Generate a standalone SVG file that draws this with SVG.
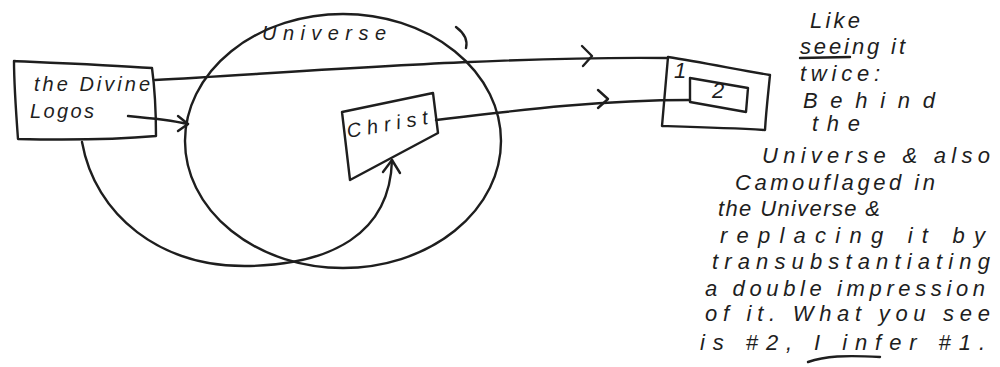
<svg xmlns="http://www.w3.org/2000/svg" width="1000" height="367" viewBox="0 0 1000 367">
<style>
.s{fill:none;stroke:#1e1e1e;stroke-width:2.4;stroke-linecap:round;stroke-linejoin:round}
.t{font-family:"Liberation Sans","DejaVu Sans",sans-serif;font-style:italic;fill:#1e1e1e;font-size:22px}
.n{font-size:20px}
</style>
<rect width="1000" height="367" fill="#fff"/>
<g id="universe">
<ellipse class="s" cx="343" cy="141" rx="158" ry="127"/>
<path class="s" d="M456,27 C464,33 468,40 466,48"/>
<text class="t n" x="262" y="40" textLength="124" lengthAdjust="spacing">Universe</text>
</g>
<g id="logos">
<path class="s" d="M14,61 C60,63 110,65 152,68 C155,90 156,112 156,136 C110,140 60,140 18,139 C16,112 14,85 14,61 Z"/>
<text class="t n" x="34" y="91" textLength="116" lengthAdjust="spacing">the Divine</text>
<text class="t n" x="30" y="118" textLength="64" lengthAdjust="spacing">Logos</text>
</g>
<g id="christ">
<path class="s" d="M342,112 L433,93 L438,133 L350,180 Z"/>
<text class="t n" x="348" y="138" textLength="82" lengthAdjust="spacing" transform="rotate(-10 348 138)">Christ</text>
</g>
<g id="box1">
<path class="s" d="M668,57 C700,62 740,70 770,75 C768,95 766,112 765,130 C730,128 695,127 662,126 C664,103 666,80 668,57 Z"/>
<text class="t" x="674" y="78" font-size="13">1</text>
</g>
<g id="box2">
<path class="s" d="M690,78 L748,88 L746,112 L690,102 Z"/>
<text class="t" x="712" y="98" font-size="12">2</text>
</g>
<g id="connectors">
<path class="s" d="M155,80 C300,72 500,56 668,58"/>
<path class="s" d="M582,46 L592,56 L583,66"/>
<path class="s" d="M436,120 C520,110 600,100 690,100"/>
<path class="s" d="M598,90 L608,99 L598,108"/>
<path class="s" d="M128,116 C150,118 170,120 188,124"/>
<path class="s" d="M178,116 L188,124 L178,131"/>
<path class="s" d="M82,142 C95,215 160,268 250,266 C330,264 390,235 392,160"/>
<path class="s" d="M383,172 L392,160 L400,173"/>
</g>
<g id="note">
<text class="t" x="810" y="28" textLength="50" lengthAdjust="spacing">Like</text>
<text class="t" x="800" y="54" textLength="105" lengthAdjust="spacing">seeing it</text>
<path class="s" d="M800,58 L850,57" stroke-width="1.8"/>
<text class="t" x="800" y="81" textLength="80" lengthAdjust="spacing">twice:</text>
<text class="t" x="803" y="108" textLength="132" lengthAdjust="spacing">Behind</text>
<text class="t" x="812" y="131" textLength="48" lengthAdjust="spacing">the</text>
<text class="t" x="762" y="163" textLength="228" lengthAdjust="spacing">Universe &amp; also</text>
<text class="t" x="735" y="190" textLength="200" lengthAdjust="spacing">Camouflaged in</text>
<text class="t" x="718" y="216" textLength="162" lengthAdjust="spacing">the Universe &amp;</text>
<text class="t" x="720" y="243" textLength="265" lengthAdjust="spacing">replacing it by</text>
<text class="t" x="712" y="269" textLength="278" lengthAdjust="spacing">transubstantiating</text>
<text class="t" x="705" y="296" textLength="280" lengthAdjust="spacing">a double impression</text>
<text class="t" x="705" y="321" textLength="285" lengthAdjust="spacing">of it. What you see</text>
<text class="t" x="700" y="350" textLength="285" lengthAdjust="spacing">is #2, I infer #1.</text>
<path class="s" d="M808,362 C825,356 845,355 880,357" stroke-width="1.8"/>
</g>
</svg>
